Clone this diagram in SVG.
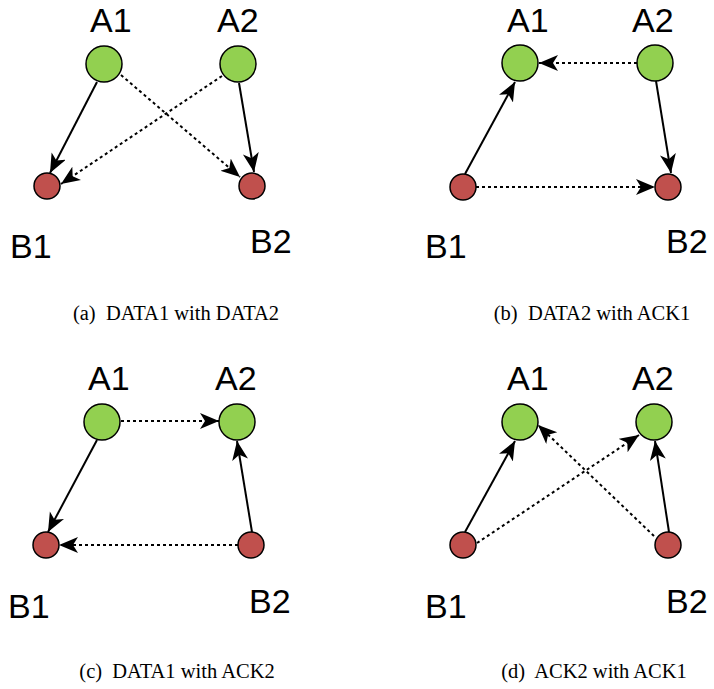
<svg xmlns="http://www.w3.org/2000/svg" width="714" height="689" viewBox="0 0 714 689">
<style>
.a{fill:#92d050;stroke:#000;stroke-width:1.5}
.b{fill:#c0504d;stroke:#000;stroke-width:1.5}
.lbl{font-family:"Liberation Sans",Arial,sans-serif;font-size:34px;fill:#000}
.cap{font-family:"Liberation Serif","Times New Roman",serif;font-size:20.5px;fill:#000;text-anchor:middle;white-space:pre}
.s{fill:none;stroke:#000;stroke-width:2;marker-end:url(#arr)}
.d{fill:none;stroke:#000;stroke-width:2;stroke-dasharray:3 3;marker-end:url(#arr)}
</style>
<defs>
<marker id="arr" markerUnits="userSpaceOnUse" markerWidth="22" markerHeight="18" refX="19" refY="8" orient="auto">
<path d="M0,0 L19,8 L0,16 L5,8 Z" fill="#000"/>
</marker>
</defs>
<rect width="714" height="689" fill="#fff"/>
<g id="connectors">
<!-- (a) -->
<line class="s" x1="97" y1="82" x2="50" y2="173"/>
<line class="s" x1="239" y1="83" x2="254" y2="172"/>
<line class="d" x1="121" y1="75" x2="240" y2="177"/>
<line class="d" x1="222" y1="76" x2="61" y2="184"/>
<!-- (b) -->
<line class="d" x1="637" y1="63" x2="539" y2="63"/>
<line class="s" x1="656" y1="81" x2="671" y2="173"/>
<line class="s" x1="465" y1="174" x2="515" y2="82"/>
<line class="d" x1="476" y1="187" x2="655" y2="187"/>
<!-- (c) -->
<line class="d" x1="121" y1="421" x2="219" y2="421"/>
<line class="s" x1="97" y1="440" x2="48" y2="532"/>
<line class="s" x1="252" y1="532" x2="237" y2="441"/>
<line class="d" x1="238" y1="545" x2="59" y2="545"/>
<!-- (d) -->
<line class="s" x1="465" y1="532" x2="515" y2="441"/>
<line class="s" x1="669" y1="532" x2="655" y2="441"/>
<line class="d" x1="477" y1="543" x2="639" y2="435"/>
<line class="d" x1="654" y1="536" x2="538" y2="425"/>
</g>
<!-- panel a -->
<g id="a-A1"><circle class="a" cx="104" cy="64" r="18"/><text class="lbl" x="90" y="32">A1</text></g>
<g id="a-A2"><circle class="a" cx="238" cy="64" r="18"/><text class="lbl" x="217" y="32">A2</text></g>
<g id="a-B1"><circle class="b" cx="47" cy="186" r="13"/><text class="lbl" x="10" y="258">B1</text></g>
<g id="a-B2"><circle class="b" cx="252" cy="186" r="13"/><text class="lbl" x="250" y="253">B2</text></g>
<text id="cap-a" class="cap" x="176" y="320">(a)  DATA1 with DATA2</text>
<!-- panel b -->
<g id="b-A1"><circle class="a" cx="520" cy="63" r="18"/><text class="lbl" x="507" y="32">A1</text></g>
<g id="b-A2"><circle class="a" cx="655" cy="63" r="18"/><text class="lbl" x="632" y="32">A2</text></g>
<g id="b-B1"><circle class="b" cx="463" cy="187" r="13"/><text class="lbl" x="425" y="258">B1</text></g>
<g id="b-B2"><circle class="b" cx="668" cy="187" r="13"/><text class="lbl" x="666" y="253">B2</text></g>
<text id="cap-b" class="cap" x="592" y="320">(b)  DATA2 with ACK1</text>
<!-- panel c -->
<g id="c-A1"><circle class="a" cx="102" cy="422" r="18"/><text class="lbl" x="88" y="390">A1</text></g>
<g id="c-A2"><circle class="a" cx="237" cy="422" r="18"/><text class="lbl" x="215" y="390">A2</text></g>
<g id="c-B1"><circle class="b" cx="46" cy="545" r="13"/><text class="lbl" x="8" y="618">B1</text></g>
<g id="c-B2"><circle class="b" cx="251" cy="545" r="13"/><text class="lbl" x="249" y="613">B2</text></g>
<text id="cap-c" class="cap" x="177" y="678">(c)  DATA1 with ACK2</text>
<!-- panel d -->
<g id="d-A1"><circle class="a" cx="520" cy="422" r="18"/><text class="lbl" x="507" y="390">A1</text></g>
<g id="d-A2"><circle class="a" cx="654" cy="422" r="18"/><text class="lbl" x="632" y="390">A2</text></g>
<g id="d-B1"><circle class="b" cx="463" cy="545" r="13"/><text class="lbl" x="425" y="618">B1</text></g>
<g id="d-B2"><circle class="b" cx="668" cy="545" r="13"/><text class="lbl" x="666" y="613">B2</text></g>
<text id="cap-d" class="cap" x="594" y="678">(d)  ACK2 with ACK1</text>
</svg>
